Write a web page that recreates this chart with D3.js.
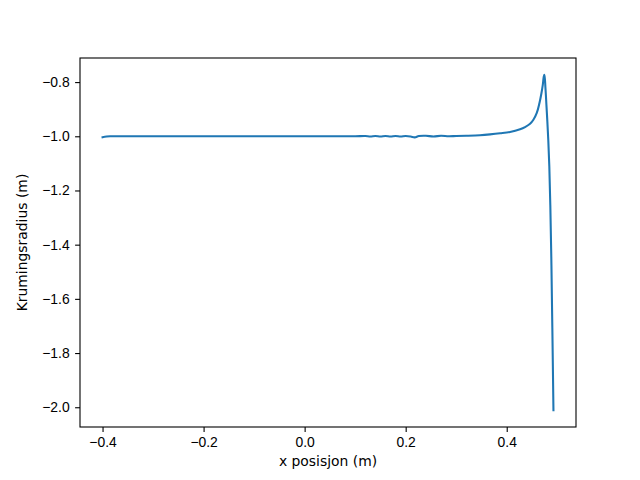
<!DOCTYPE html>
<html lang="no">
<head>
    <meta charset="UTF-8">
    <title>Krumingsradius</title>
    <style>
        body { margin: 0; background: #fff; }
        svg { display: block; font-family: "DejaVu Sans", sans-serif; }
        .tick text { font-size: 13.9px; fill: #000; }
        .tick line { stroke: #000; stroke-width: 1.1px; }
        .domain { display: none; }
        .label { font-size: 13.9px; fill: #000; }
        .curve { stroke: #1f77b4; stroke-width: 2.08px; fill: none; stroke-linecap: square; stroke-linejoin: round; }
    </style>
    <script src="https://d3js.org/d3.v7.min.js"></script>
</head>
<body>
<script>
    // x position (m) and radius of curvature (m)
    const xPos = [
        -0.400, -0.392, -0.385, -0.350, -0.300, -0.250, -0.200, -0.150, -0.100, -0.050,
        0.000, 0.050, 0.100, 0.120, 0.130, 0.140, 0.150, 0.160, 0.170, 0.180,
        0.190, 0.200, 0.210, 0.218, 0.226, 0.240, 0.255, 0.270, 0.285, 0.300,
        0.320, 0.347, 0.367, 0.387, 0.4066, 0.4264, 0.4363, 0.4462, 0.4528, 0.4595,
        0.4647, 0.4687, 0.4714, 0.4734, 0.4746, 0.4766, 0.4786, 0.4804, 0.4823, 0.4843,
        0.4863, 0.4885, 0.4905, 0.4925
    ];
    const radius = [
        -1.004, -1.001, -1.000, -1.000, -1.000, -1.000, -1.000, -1.000, -1.000, -1.000,
        -1.000, -1.000, -1.000, -0.999, -1.001, -0.999, -1.001, -0.999, -1.001, -0.999,
        -1.001, -0.999, -1.001, -1.004, -0.999, -0.998, -1.001, -0.998, -1.000, -0.999,
        -0.998, -0.996, -0.993, -0.989, -0.984, -0.974, -0.966, -0.954, -0.939, -0.914,
        -0.878, -0.841, -0.810, -0.779, -0.773, -0.820, -0.885, -0.945, -1.015, -1.110,
        -1.255, -1.476, -1.735, -2.011
    ];
    const xTicks = [-0.4, -0.2, 0.0, 0.2, 0.4];
    const yTicks = [-2.0, -1.8, -1.6, -1.4, -1.2, -1.0, -0.8];

    const data = xPos.map((x, i) => ({x: x, y: radius[i]}));

    const width = 640, height = 480;
    const margin = {top: 58, right: 64, bottom: 53, left: 80};

    // matplotlib style 5% padding around the data
    function padded(extent) {
        const pad = (extent[1] - extent[0]) * 0.05;
        return [extent[0] - pad, extent[1] + pad];
    }

    const x = d3.scaleLinear()
        .domain(padded(d3.extent(xPos)))
        .range([margin.left, width - margin.right]);

    const y = d3.scaleLinear()
        .domain(padded(d3.extent(radius)))
        .range([height - margin.bottom, margin.top]);

    const fmt = d => d3.format(".1f")(d).replace("-", "\u2212");

    const svg = d3.select("body").append("svg")
        .attr("width", width)
        .attr("height", height);

    svg.append("path")
        .datum(data)
        .attr("class", "curve")
        .attr("d", d3.line().x(d => x(d.x)).y(d => y(d.y)).curve(d3.curveCatmullRom.alpha(0.5)));

    svg.append("g")
        .attr("transform", `translate(0, ${height - margin.bottom})`)
        .call(d3.axisBottom(x).tickValues(xTicks).tickFormat(fmt).tickSize(4.9).tickPadding(5.5));

    svg.append("g")
        .attr("transform", `translate(${margin.left}, 0)`)
        .call(d3.axisLeft(y).tickValues(yTicks).tickFormat(fmt).tickSize(4.9).tickPadding(5.5));

    // axes frame
    svg.append("rect")
        .attr("x", margin.left)
        .attr("y", margin.top)
        .attr("width", width - margin.left - margin.right)
        .attr("height", height - margin.top - margin.bottom)
        .attr("fill", "none")
        .attr("stroke", "#000")
        .attr("stroke-width", 1.1);

    svg.append("text")
        .attr("class", "label")
        .attr("x", (margin.left + width - margin.right) / 2)
        .attr("y", 466)
        .attr("text-anchor", "middle")
        .text("x posisjon (m)");

    svg.append("text")
        .attr("class", "label")
        .attr("transform", `translate(27, ${(margin.top + height - margin.bottom) / 2}) rotate(-90)`)
        .attr("text-anchor", "middle")
        .text("Krumingsradius (m)");
</script>
</body>
</html>
